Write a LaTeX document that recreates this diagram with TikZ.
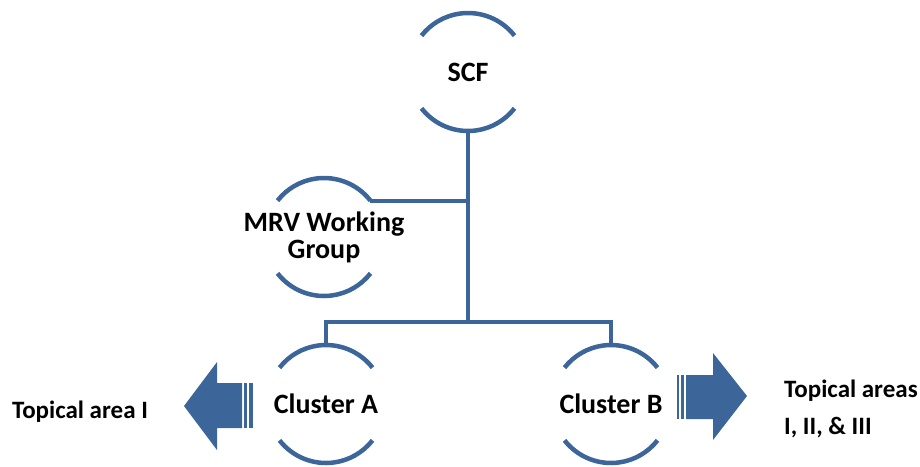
\documentclass[tikz,border=0pt]{standalone}
\usepackage{fontspec}
\setmainfont{Carlito}
\usetikzlibrary{positioning}
\definecolor{orgblue}{RGB}{60,101,154}
\tikzset{
  unit/.style={circle, minimum size=118pt, inner sep=0pt, align=center,
    font=\bfseries\fontsize{28}{27}\selectfont},
  area/.style={inner sep=0pt, font=\bfseries\fontsize{25}{37}\selectfont},
  link/.style={draw=orgblue, line width=4pt},
  rim/.style={draw=orgblue, line width=4.5pt}
}

\begin{document}
\begin{tikzpicture}[x=1pt,y=-1pt]
    \useasboundingbox (0,0) rectangle (920,466);
    \node[unit] (scf) at (468,72) {SCF};
    \node[unit] (mrv) at (324,237) {MRV Working\\Group};
    \node[unit] (cla) at (326,404) {Cluster A};
    \node[unit] (clb) at (611,404) {Cluster B};
    \foreach \n in {scf,mrv,cla,clb} {
      \draw[rim] (\n.center) ++(38:59pt) arc[start angle=38, end angle=142, radius=59pt];
      \draw[rim] (\n.center) ++(218:59pt) arc[start angle=218, end angle=322, radius=59pt];
    }
    \coordinate (hub) at (468,322);
    \draw[link] (scf.center) ++(0,59) -- (hub);
    \draw[link] (mrv.center) ++(38:59pt) coordinate (tap) -- (tap -| hub);
    \draw[link] (cla.north) |- (hub) -| (clb.north);
    \fill[orgblue] (242,383) -- (217,383) -- (217,362) -- (184,406) -- (217,450) -- (217,428) -- (242,428) -- cycle;
    \fill[orgblue] (244,383) rectangle (247,428);
    \fill[orgblue] (249,383) rectangle (253,428);
    \fill[orgblue] (686,375) -- (713,375) -- (713,353) -- (747,396) -- (713,440) -- (713,419) -- (686,419) -- cycle;
    \fill[orgblue] (677,375) rectangle (679,419);
    \fill[orgblue] (681,375) rectangle (684,419);
    \node[area] (tla) at (80,412) {Topical area I};
    \node[area, anchor=west, align=left] (tlb) at (784,409) {Topical areas\\I, II, \& III};
\end{tikzpicture}
\end{document}
